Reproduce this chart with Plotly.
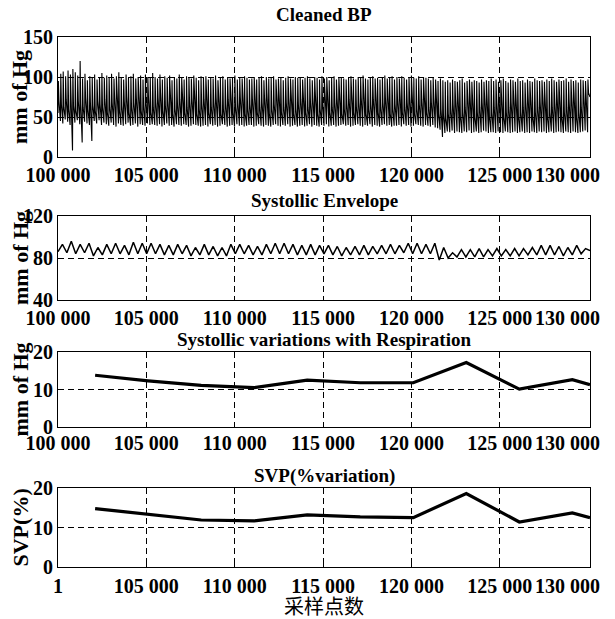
import plotly.graph_objects as go

# ---------------- data ----------------
x_start, x_end = 100000, 130100

# Cleaned BP: per-beat systolic peaks, dicrotic levels and diastolic troughs (mm Hg)
bp_sys = [
    95, 104, 107, 101, 108, 103, 110, 106, 102, 120, 98, 104, 96, 101, 99, 103, 97, 100, 105, 99,
    102, 99, 104, 98, 101, 106, 100, 97, 103, 99, 101, 104, 98, 100, 102, 97, 103, 100, 99, 105,
    100, 98, 103, 97, 101, 99, 102, 96, 100, 98, 103, 99, 97, 101, 100, 98, 102, 99, 96, 101,
    99, 101, 97, 100, 98, 102, 96, 99, 101, 97, 100, 98, 99, 102, 97, 100, 98, 101, 99, 97,
    98, 100, 97, 99, 101, 96, 100, 98, 99, 101, 97, 98, 100, 96, 99, 101, 98, 97, 100, 99,
    100, 97, 99, 101, 98, 96, 100, 99, 97, 101, 98, 100, 96, 99, 101, 97, 99, 100, 98, 97,
    99, 101, 98, 97, 100, 99, 102, 98, 97, 100, 101, 98, 99, 97, 100, 102, 98, 99, 101, 97,
    100, 98, 101, 99, 97, 100, 102, 99, 98, 101, 97, 100, 99, 98, 96, 99, 97, 95, 98, 96,
    94, 96, 93, 97, 95, 94, 96, 98, 93, 95, 97, 94, 96, 95, 93, 97, 94, 96, 95, 98,
    95, 97, 94, 96, 98, 95, 93, 97, 96, 94, 98, 95, 96, 93, 97, 95, 94, 98, 96, 95,
    96, 94, 97, 95, 98, 96, 94, 97, 95, 96, 98, 94, 97, 95, 96, 93, 97, 96, 95, 97,
]
bp_notch = [
    70, 66, 62, 72, 60, 68, 64, 58, 70, 66, 62, 74, 60, 68, 64, 58, 70, 66, 62, 72,
    56, 62, 68, 74, 80, 58, 64, 70, 76, 56, 62, 68, 74, 80, 58, 64, 70, 76, 56, 62,
    68, 74, 80, 58, 64, 70, 76, 54, 60, 66, 72, 78, 56, 62, 68, 74, 80, 54, 60, 66,
    72, 78, 56, 62, 68, 74, 80, 54, 60, 66, 72, 78, 56, 62, 68, 74, 80, 54, 60, 66,
    72, 78, 56, 62, 68, 74, 80, 54, 60, 66, 72, 78, 56, 62, 68, 74, 80, 54, 60, 66,
    72, 78, 56, 62, 68, 74, 80, 54, 60, 66, 72, 78, 56, 62, 68, 74, 80, 54, 60, 66,
    72, 78, 56, 62, 68, 74, 80, 54, 60, 66, 72, 78, 56, 62, 68, 74, 80, 54, 60, 66,
    72, 78, 56, 62, 68, 74, 80, 54, 60, 66, 72, 78, 56, 62, 68, 74, 80, 54, 60, 52,
    48, 54, 60, 66, 72, 78, 50, 56, 62, 68, 74, 80, 50, 56, 62, 68, 74, 80, 50, 56,
    62, 68, 74, 80, 50, 56, 62, 68, 74, 80, 50, 56, 62, 68, 74, 80, 50, 56, 62, 68,
    74, 80, 50, 56, 62, 68, 74, 80, 50, 56, 62, 68, 74, 80, 50, 56, 62, 68, 74, 80,
]
bp_dia = [
    55, 45, 42, 47, 44, 40, 8, 43, 46, 41, 18, 44, 42, 40, 20, 45, 42, 46, 40, 43,
    41, 39, 43, 40, 38, 42, 40, 39, 41, 43, 39, 40, 42, 38, 41, 40, 39, 42, 40, 41,
    40, 39, 41, 38, 40, 42, 39, 40, 38, 41, 40, 39, 41, 40, 38, 39, 41, 40, 39, 38,
    39, 40, 38, 41, 39, 40, 38, 39, 41, 40, 38, 39, 40, 38, 41, 39, 40, 38, 39, 40,
    40, 38, 39, 41, 39, 38, 40, 39, 38, 40, 41, 39, 38, 40, 39, 41, 38, 39, 40, 38,
    39, 40, 38, 39, 41, 38, 40, 39, 38, 40, 39, 41, 38, 39, 40, 38, 39, 40, 41, 39,
    40, 38, 39, 40, 41, 39, 38, 40, 39, 41, 38, 40, 39, 38, 40, 41, 39, 40, 38, 39,
    39, 40, 38, 41, 39, 40, 38, 39, 41, 40, 39, 38, 40, 39, 38, 40, 37, 36, 34, 25,
    30, 32, 31, 33, 30, 32, 31, 30, 32, 31, 33, 30, 31, 32, 30, 31, 33, 32, 30, 31,
    31, 30, 32, 31, 30, 32, 31, 30, 31, 32, 30, 31, 32, 30, 31, 30, 32, 31, 30, 32,
    31, 32, 30, 31, 32, 30, 31, 32, 31, 30, 32, 31, 30, 32, 31, 30, 31, 32, 33, 31, 75,
]

# Systolic envelope: per-respiration-cycle peaks and troughs (mm Hg)
env_peaks = [
    93, 96, 93, 94, 90, 93, 94, 92, 95, 94,
    94, 93, 92, 93, 92, 90, 93, 91, 90, 93,
    93, 92, 91, 93, 94, 94, 93, 92, 93, 92,
    92, 91, 90, 91, 92, 91, 92, 93, 92, 94,
    94, 93, 94, 90, 85, 88, 88, 89, 88, 89,
    88, 89, 89, 90, 92, 92, 91, 90, 92, 89,
]
env_troughs = [
    86, 85, 84, 85, 82, 83, 84, 84, 83, 84,
    84, 84, 83, 83, 84, 82, 83, 83, 82, 82,
    84, 84, 83, 83, 84, 84, 84, 83, 83, 83,
    84, 83, 82, 83, 83, 83, 84, 84, 84, 85,
    84, 84, 84, 78, 80, 81, 81, 81, 81, 82,
    82, 82, 82, 83, 83, 83, 83, 82, 83, 84, 87,
]

# Systolic variation with respiration and SVP
var_x = [102100, 105100, 108100, 111100, 114100, 117100, 120100, 123100, 126100, 129100, 130100]
svr_y = [13.8, 12.3, 11.1, 10.5, 12.5, 11.8, 11.8, 17.2, 10.1, 12.6, 11.3]
svp_y = [14.8, 13.3, 11.9, 11.7, 13.2, 12.7, 12.5, 18.6, 11.4, 13.7, 12.5]

x_ticks = [100000, 105000, 110000, 115000, 120000, 125000, 130000]
x_ticktext = ["100 000", "105 000", "110 000", "115 000", "120 000", "125 000", "130 000"]
x_ticktext_last = ["1", "105 000", "110 000", "115 000", "120 000", "125 000", "130 000"]

titles = ["Cleaned BP", "Systollic Envelope", "Systollic variations with Respiration", "SVP(%variation)"]
ytitles = ["mm of Hg", "mm of Hg", "mm of Hg", "SVP(%)"]
y_ranges = [[0, 150], [40, 120], [0, 20], [0, 20]]
y_ticks = [[0, 50, 100, 150], [40, 80, 120], [0, 10, 20], [0, 10, 20]]
x_title = "采样点数"

# ---------------- layout geometry ----------------
W, H = 615, 619
def fx(p): return p / W
def fy(p): return 1 - p / H

boxes = [(37, 157), (216, 300), (352, 427), (488, 567)]  # top, bottom in px
title_px = [14, 200, 340, 476]
label_standoff = [0, 0, -2, 1]
left_px, right_px = 58, 590

fig = go.Figure()

# BP waveform
n_beats = len(bp_sys)
Tb = (x_end - x_start) / n_beats
bx, by = [], []
for i in range(n_beats):
    t = x_start + i * Tb
    bx += [t, t + 0.15 * Tb, t + 0.4 * Tb]
    by += [bp_dia[i], bp_sys[i], bp_notch[i]]
bx.append(x_end)
by.append(bp_dia[-1])
fig.add_trace(go.Scatter(x=bx, y=by, mode="lines", line=dict(color="black", width=1.1),
                         xaxis="x", yaxis="y", showlegend=False))

# Envelope
n_cyc = len(env_peaks)
Tc = (x_end - x_start) / n_cyc
ex, ey = [], []
for i in range(n_cyc):
    t = x_start + i * Tc
    ex += [t, t + 0.5 * Tc]
    ey += [env_troughs[i], env_peaks[i]]
ex.append(x_end)
ey.append(env_troughs[-1])
fig.add_trace(go.Scatter(x=ex, y=ey, mode="lines", line=dict(color="black", width=1.5),
                         xaxis="x2", yaxis="y2", showlegend=False))

fig.add_trace(go.Scatter(x=var_x, y=svr_y, mode="lines", line=dict(color="black", width=3.2),
                         xaxis="x3", yaxis="y3", showlegend=False))
fig.add_trace(go.Scatter(x=var_x, y=svp_y, mode="lines", line=dict(color="black", width=3.2),
                         xaxis="x4", yaxis="y4", showlegend=False))

SERIF = "Liberation Serif"
tickfont = dict(family=SERIF, size=20, color="black", weight="bold")

layout = dict(width=W, height=H, margin=dict(l=0, r=0, t=0, b=0, autoexpand=False),
              paper_bgcolor="white", plot_bgcolor="white", showlegend=False)

annotations = []
for k in range(4):
    top, bot = boxes[k]
    xn = "xaxis" if k == 0 else f"xaxis{k+1}"
    yn = "yaxis" if k == 0 else f"yaxis{k+1}"
    yref = "y" if k == 0 else f"y{k+1}"
    xref = "x" if k == 0 else f"x{k+1}"
    texts = x_ticktext_last if k == 3 else x_ticktext
    layout[xn] = dict(domain=[fx(left_px), fx(right_px)], range=[x_start, x_end], anchor=yref,
                      tickmode="array", tickvals=x_ticks[:-1], ticktext=texts[:-1],
                      showline=True, mirror=True, linecolor="black", linewidth=1,
                      ticks="inside", ticklen=4, tickcolor="black",
                      showgrid=True, gridcolor="black", gridwidth=1, griddash="6px,4px",
                      zeroline=False, tickfont=tickfont, fixedrange=True, automargin=False,
                      ticklabelstandoff=label_standoff[k])
    layout[yn] = dict(domain=[fy(bot), fy(top)], range=y_ranges[k], anchor=xref,
                      tickmode="array", tickvals=y_ticks[k],
                      showline=True, mirror=True, linecolor="black", linewidth=1,
                      ticks="inside", ticklen=4, tickcolor="black",
                      showgrid=True, gridcolor="black", gridwidth=1, griddash="6px,4px",
                      zeroline=False, tickfont=tickfont, fixedrange=True, automargin=False)
    # last x tick label, kept inside the figure
    annotations.append(dict(x=x_ticks[-1], y=fy(bot), xref=xref, yref="paper",
                            text=texts[-1], showarrow=False, xanchor="right", yanchor="top",
                            xshift=14, yshift=-5 + label_standoff[k] * -1, font=tickfont))
    annotations.append(dict(x=0.5 * (fx(left_px) + fx(right_px)), y=fy(title_px[k]), xref="paper", yref="paper",
                            text=titles[k], showarrow=False, xanchor="center", yanchor="middle",
                            font=dict(family=SERIF, size=19, color="black", weight="bold")))
    annotations.append(dict(x=fx(20), y=fy((top + bot) / 2), xref="paper", yref="paper",
                            text=ytitles[k], showarrow=False, textangle=-90,
                            xanchor="center", yanchor="middle",
                            font=dict(family=SERIF, size=22, color="black", weight="bold")))

annotations.append(dict(x=0.5 * (fx(left_px) + fx(right_px)), y=fy(605), xref="paper", yref="paper",
                        text=x_title, showarrow=False, xanchor="center", yanchor="middle",
                        font=dict(family="Noto Sans CJK SC", size=20, color="black")))
layout["annotations"] = annotations
fig.update_layout(**layout)

fig.write_html("out.html", config={"displayModeBar": False},
               post_script="document.body.style.margin='0';document.body.style.overflow='hidden';")
